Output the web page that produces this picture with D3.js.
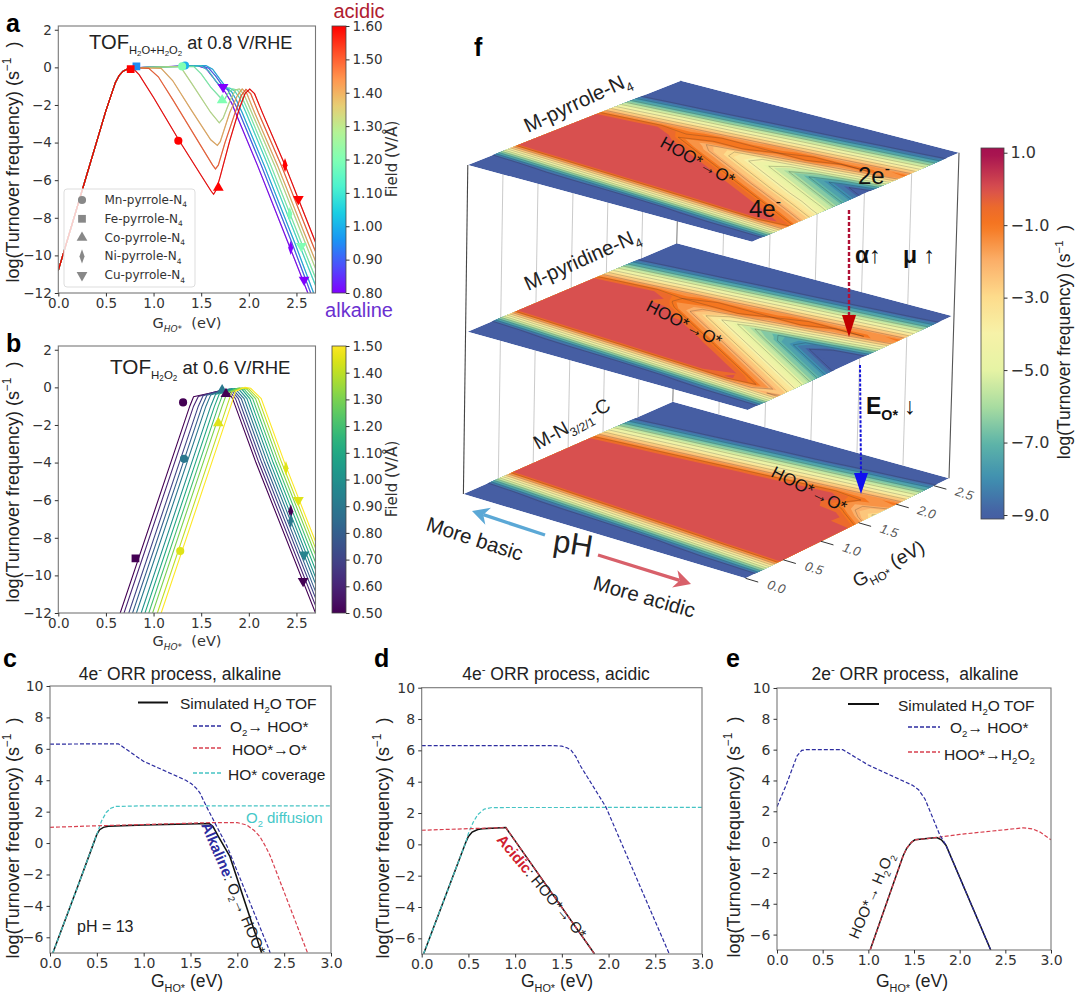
<!DOCTYPE html>
<html><head><meta charset="utf-8">
<script src="https://d3js.org/d3.v7.min.js"></script>
<style>
html,body{margin:0;padding:0;background:#fff}
svg{display:block}
.tick text{font-family:"DejaVu Sans";fill:#333}
</style></head><body>
<svg id="c" width="1080" height="994"></svg>
<script>
// ---------- DATA: panel a (logTOF vs G_HO*), one list per field value ----------
const riseA = [[0,-10.8],[.1,-9.1],[.2,-7.4],[.3,-5.7],[.4,-4],[.5,-2.3],[.6,-.8],[.64,-.42],[.68,-.2],[.73,-.08],[.78,-.02]];
const fieldsA = [0.8,0.9,1.0,1.1,1.2,1.3,1.4,1.5,1.6];
const a080 = [[1.45,.1],[1.55,-.05],[1.62,-.5],[1.7,-1.05],[1.75,-1.3],[1.82,-1.9],[1.86,-2.4],[2.09,-5.2],[2.41,-9.3],[2.62,-12]];
const a090 = [[1.5,.1],[1.58,-.05],[1.65,-.45],[1.72,-.95],[1.78,-1.2],[1.84,-1.8],[1.9,-2.4],[2.13,-5.2],[2.45,-9.3],[2.65,-12]];
const a100 = [[1.55,.1],[1.62,-.1],[1.7,-.65],[1.76,-1.05],[1.82,-1.3],[1.87,-1.75],[1.93,-2.4],[2.16,-5.2],[2.48,-9.3],[2.68,-12]];
const a110 = [[1.5,.08],[1.58,-.2],[1.65,-.7],[1.72,-1.1],[1.8,-1.1],[1.85,-1.25],[1.9,-1.6],[1.97,-2.4],[2.2,-5.2],[2.52,-9.3],[2.7,-11.6]];
const a120 = [[1.42,.05],[1.5,-.35],[1.6,-1.05],[1.7,-1.6],[1.74,-1.75],[1.78,-1.4],[1.83,-1.15],[1.88,-1.2],[1.92,-1.5],[2,-2.4],[2.23,-5.2],[2.55,-9.3],[2.7,-11.2]];
const a130 = [[1.28,.05],[1.4,-.85],[1.6,-2.4],[1.69,-2.95],[1.73,-2.7],[1.8,-1.8],[1.86,-1.2],[1.9,-1.15],[1.95,-1.45],[2.03,-2.4],[2.27,-5.2],[2.59,-9.3],[2.7,-10.7]];
const a140 = [[1.08,-.05],[1.2,-.7],[1.4,-2.3],[1.6,-3.85],[1.67,-4.15],[1.7,-3.95],[1.8,-2.4],[1.88,-1.5],[1.93,-1.15],[1.98,-1.4],[2.06,-2.4],[2.3,-5.2],[2.62,-9.3],[2.7,-10.3]];
const a150 = [[.95,-.05],[1.05,-.5],[1.2,-1.7],[1.5,-4.2],[1.62,-5.2],[1.65,-5.4],[1.68,-5.2],[1.75,-4],[1.85,-2.5],[1.92,-1.5],[1.97,-1.17],[2.02,-1.4],[2.1,-2.4],[2.34,-5.2],[2.66,-9.3],[2.7,-9.8]];
const a160 = [[.85,-.4],[1,-1.6],[1.27,-3.9],[1.5,-5.75],[1.6,-6.55],[1.63,-6.75],[1.66,-6.5],[1.7,-5.8],[1.8,-3.9],[1.9,-2.2],[1.96,-1.4],[2.01,-1.15],[2.06,-1.4],[2.15,-2.5],[2.38,-5.2],[2.52,-7],[2.7,-9.3]];
const seriesA = [a080,a090,a100,a110,a120,a130,a140,a150,a160];
const rainbowStops = ["#8000ff","#4d4ffb","#1a96f3","#1acee3","#4df3ce","#80ffb4","#b3f396","#e6ce74","#ff964f","#ff4f28","#ff0000"];
const markersA = [["circle",1.33,.1,1.0],["circle",1.3,.05,1.2],["circle",1.26,-3.9,1.6],["square",.82,.05,.95],["square",.76,-.1,1.6],
  ["up",1.68,-6.4,1.6],["up",1.72,-1.75,1.2],["down",1.73,-1.05,.8],["diamond",2.38,-5.2,1.6],["diamond",2.43,-7.8,1.2],["diamond",2.44,-9.6,.8],
  ["down",2.52,-7,1.6],["down",2.55,-9.5,1.2],["down",2.58,-11.3,.8]];
const legendNames = ["Mn","Fe","Co","Ni","Cu"];
const legendSymbols = ["circle","square","up","diamond","down"];
// ---------- panel b ----------
const fieldsB = [.5,.6,.7,.8,.9,1.0,1.1,1.2,1.3,1.4,1.5];
const b050=[[.65,-12],[1.38,-1],[1.42,-.5],[1.6,-.3],[1.72,-.15],[1.78,-.2],[1.83,-.6],[2.075,-4],[2.7,-12]];
const b060=[[.69,-12],[1.42,-1],[1.47,-.48],[1.6,-.3],[1.74,-.13],[1.8,-.2],[1.86,-.6],[2.105,-4],[2.7,-11.6]];
const b070=[[.74,-12],[1.47,-1],[1.52,-.45],[1.6,-.33],[1.76,-.12],[1.82,-.18],[1.89,-.6],[2.135,-4],[2.7,-11.2]];
const b080=[[.78,-12],[1.51,-1],[1.56,-.42],[1.78,-.1],[1.84,-.16],[1.92,-.6],[2.165,-4],[2.7,-10.85]];
const b090=[[.82,-12],[1.55,-1],[1.6,-.4],[1.8,-.08],[1.87,-.15],[1.95,-.6],[2.195,-4],[2.7,-10.45]];
const b100=[[.87,-12],[1.6,-1],[1.65,-.38],[1.82,-.07],[1.9,-.13],[1.98,-.6],[2.225,-4],[2.7,-10.1]];
const b110=[[.91,-12],[1.64,-1],[1.69,-.35],[1.85,-.06],[1.93,-.12],[2.01,-.6],[2.255,-4],[2.7,-9.7]];
const b120=[[.95,-12],[1.68,-1],[1.73,-.33],[1.88,-.05],[1.95,-.1],[2.04,-.6],[2.285,-4],[2.7,-9.3]];
const b130=[[.99,-12],[1.72,-1],[1.77,-.3],[1.9,-.03],[1.98,-.1],[2.07,-.6],[2.315,-4],[2.7,-8.9]];
const b140=[[1.04,-12],[1.77,-1],[1.82,-.25],[1.93,-.02],[2,-.08],[2.1,-.6],[2.345,-4],[2.7,-8.55]];
const b150=[[1.08,-12],[1.81,-1],[1.86,-.2],[1.96,0],[2.02,-.05],[2.13,-.6],[2.375,-4],[2.7,-8.2]];
const seriesB=[b050,b060,b070,b080,b090,b100,b110,b120,b130,b140,b150];
const markersB=[["circle",1.31,-.8,.5],["circle",1.32,-3.8,.9],["circle",1.28,-8.7,1.45],["square",.81,-9.1,.5],
  ["up",1.68,-1.9,1.45],["up",1.72,-.15,.9],["up",1.76,-.35,.5],["diamond",2.39,-4.3,1.45],["diamond",2.44,-6.6,.5],["diamond",2.44,-7.1,.9],
  ["down",2.52,-6,1.45],["down",2.58,-8.9,.95],["down",2.57,-10.3,.5]];
// ---------- panel c ----------
const cSim=[[.03,-7],[.3,-2.7],[.46,-.1],[.5,.55],[.53,.85],[.57,1],[.62,1.07],[1,1.15],[1.7,1.25],[1.74,1.05],[1.8,.4],[1.92,-.85],[2.26,-7]];
const cO2=[[0,6.3],[.73,6.32],[1,5.2],[1.45,4],[1.51,3.77],[1.56,3.5],[1.6,3.2],[1.67,2.33],[1.78,1.06],[1.89,-.2],[2.34,-6.8],[2.35,-7]];
const cHOO=[[0,1],[.5,1.1],[1,1.18],[1.7,1.3],[2,1.3],[2.1,1.15],[2.18,.8],[2.24,.42],[2.3,-.2],[2.35,-.8],[2.75,-7]];
const cCov=[[.03,-7],[.3,-2.7],[.46,-.1],[.5,.55],[.55,1.4],[.6,1.95],[.65,2.22],[.7,2.33],[1,2.37],[3,2.37]];
// ---------- panel d ----------
const dSim=[[.02,-7],[.47,.1],[.5,.5],[.54,.78],[.6,.95],[.65,1],[.9,1.07],[1.85,-7]];
const dO2=[[0,6.3],[1.4,6.3],[1.5,6.27],[1.56,6.15],[1.6,6],[1.65,5.6],[1.7,5],[1.97,2.4],[2.65,-7]];
const dHOO=[[0,.9],[.5,1],[.9,1.07],[1.85,-7]];
const dCov=[[.02,-7],[.47,.1],[.5,.7],[.55,1.4],[.6,1.9],[.67,2.25],[.75,2.35],[3,2.36]];
// ---------- panel e ----------
const eSim=[[1.02,-7],[1.38,-.9],[1.42,-.4],[1.47,-.02],[1.51,.15],[1.75,.3],[1.8,.15],[1.85,-.2],[2.34,-7]];
const eO2=[[0,2.3],[.1,3.7],[.22,5.6],[.27,5.95],[.32,6],[.72,6],[1,5],[1.48,3.7],[1.55,3.4],[1.62,2.8],[1.78,.5],[1.85,-.2],[2.34,-7]];
const eHOO=[[1.02,-7],[1.38,-.9],[1.42,-.4],[1.47,-.02],[1.51,.15],[1.75,.3],[2,.5],[2.7,.93],[2.8,.85],[2.88,.65],[3,.15]];
// ---------- panel f: log TOF read per pH column, on a G_HO* grid ----------
const pHColumns=[13,11.8,10.6,9.4,8.2,7,5.8,4.6,3.4,2.2,1];
const gRows=[0,.1,.2,.3,.4,.5,.6,.7,.8,.9,1,1.1,1.2,1.3,1.4,1.5,1.6,1.7,1.8,1.9,2,2.1,2.2,2.3,2.4,2.5,2.6,2.7];
const pyrrole=[
[-10,-10,-10,-9.5,-6.9,-4.2,-1.5,1.2,-.1,-.1,-.1,-.1,-.1,-.1,-.1,-.1,.23,-1.3,-2.8,-4.4,-5.9,-7.5,-9,-10,-10,-10,-10,-10],
[-10,-10,-10,-9,-6.4,-3.7,-1,1.7,-.1,-.1,-.1,-.1,-.1,-.1,-.1,-.1,.72,-.8,-2.4,-3.9,-5.4,-7,-8.5,-10,-10,-10,-10,-10],
[-10,-10,-10,-8.5,-5.8,-3.2,-.5,2.2,-.1,-.1,-.1,-.1,-.1,-.1,-.1,-.1,1.2,-.32,-1.9,-3.4,-4.9,-6.5,-8,-9.6,-10,-10,-10,-10],
[-10,-10,-10,-8,-5.3,-2.7,0,.5,-.1,-.1,-.1,-.1,-.1,-.1,.8,-.1,-1,-1,-1.4,-2.9,-4.4,-6,-7.5,-9.1,-10,-10,-10,-10],
[-10,-10,-10,-7.5,-4.8,-2.2,.5,.5,-.1,-.1,-.1,-.1,-.1,.33,-.58,-1.5,-2,-1,-1,-2.4,-4,-5.5,-7,-8.6,-10,-10,-10,-10],
[-10,-10,-9.7,-7,-4.3,-1.7,1,.5,-.1,-.1,-.1,.75,-.16,-1.07,-2,-2.9,-3,-1,-1,-1.9,-3.5,-5,-6.5,-8.1,-9.6,-10,-10,-10],
[-10,-10,-9.2,-6.5,-3.8,-1.2,1.5,.5,-.1,-.1,.26,-.65,-1.56,-2.5,-3.4,-4.3,-4,-2,-1,-1.4,-3,-4.5,-6,-7.6,-9.2,-10,-10,-10],
[-10,-10,-8.7,-6,-3.3,-.7,2,.5,.67,-.24,-1.15,-2.1,-3,-3.9,-4.8,-5.7,-5,-3,-1,-1,-2.5,-4,-5.6,-7.1,-8.7,-10,-10,-10],
[-10,-10,-8.1,-5.5,-2.8,-.05,1,.18,-.73,-1.64,-2.55,-3.5,-4.4,-5.3,-6.2,-7.1,-6,-4,-2,-1,-2,-3.5,-5.1,-6.6,-8.1,-9.7,-10,-10],
[-10,-10,-7.6,-5,-2.3,.37,-.3,-1.2,-2.1,-3,-3.9,-4.9,-5.8,-6.7,-7.6,-8.5,-7,-5,-3,-1,-1.5,-3,-4.6,-6.1,-7.7,-9.2,-10,-10],
[-10,-9.8,-7.1,-4.4,-1.8,-.82,-1.73,-2.6,-3.5,-4.5,-5.4,-6.3,-7.2,-8.1,-9,-9.9,-8,-6,-4,-2,-1,-2.5,-4.1,-5.6,-7.2,-8.7,-10,-10]];
const pyridine=[
[-10,-10,-10,-9.5,-6.9,-4.2,-1.5,1.2,-.1,-.1,-.1,-.1,-.1,-.1,-.1,-.1,.23,-1.3,-2.8,-4.4,-5.9,-7.5,-9,-10,-10,-10,-10,-10],
[-10,-10,-10,-9,-6.4,-3.7,-1,1.7,-.1,-.1,-.1,-.1,-.1,-.1,-.1,-.1,.72,-.8,-2.4,-3.9,-5.4,-7,-8.5,-10,-10,-10,-10,-10],
[-10,-10,-10,-8.5,-5.8,-3.2,-.5,2.2,-.1,-.1,-.1,-.1,-.1,-.1,-.1,-.1,1.2,-.32,-1.9,-3.4,-4.9,-6.5,-8,-9.6,-10,-10,-10,-10],
[-10,-10,-10,-8,-5.3,-2.7,0,.5,-.1,-.1,-.1,-.1,-.1,-.1,.45,-.55,-1.2,-1,-1.4,-2.9,-4.4,-6,-7.5,-9.1,-10,-10,-10,-10],
[-10,-10,-10,-7.5,-4.8,-2.2,.5,.5,-.1,-.1,-.1,-.1,.7,-.3,-1.3,-2.3,-2,-1,-1,-2.4,-4,-5.5,-7,-8.6,-10,-10,-10,-10],
[-10,-10,-9.7,-7,-4.3,-1.7,1,.5,-.1,-.1,.95,.05,-1.05,-2.05,-3.05,-4.05,-3,-1,-1,-1.9,-3.5,-5,-6.5,-8.1,-9.6,-10,-10,-10],
[-10,-10,-9.2,-6.5,-3.8,-1.2,1.5,.5,1.2,.2,-.8,-1.8,-2.8,-3.8,-4.8,-5.8,-4,-2,-1,-1.4,-3,-4.5,-6,-7.6,-9.2,-10,-10,-10],
[-10,-10,-8.7,-6,-3.3,-.7,2,.45,-.55,-1.55,-2.55,-3.55,-4.55,-5.55,-6.55,-7,-5,-3,-1,-1,-2.5,-4,-5.6,-7.1,-8.7,-10,-10,-10],
[-10,-10,-8.1,-5.5,-2.8,-.14,-.3,-1.3,-2.3,-3.3,-4.3,-5.3,-6.3,-7.3,-8.3,-8,-6,-4,-2,-1,-2,-3.5,-5.1,-6.6,-8.1,-9.7,-10,-10],
[-10,-10,-7.6,-5,-2.3,-1.05,-2.05,-3.05,-4.05,-5.05,-6.05,-7.05,-8.05,-9.05,-10,-9,-7,-5,-3,-1,-1.5,-3,-4.6,-6.1,-7.7,-9.2,-10,-10],
[-10,-9.8,-7.1,-4.4,-1.8,-2.8,-3.8,-4.8,-5.8,-6.8,-7.8,-8.8,-9.8,-10,-10,-10,-8,-6,-4,-2,-1,-2.5,-4.1,-5.6,-7.2,-8.7,-10,-10]];
const carbon=[
[-10,-10,-10,-9.5,-6.9,-4.2,-1.5,1.2,-.1,-.1,-.1,-.1,-.1,-.1,-.1,-.1,.23,-1.3,-2.8,-4.4,-5.9,-7.5,-9,-10,-10,-10,-10,-10],
[-10,-10,-10,-9,-6.4,-3.7,-1,1.7,-.1,-.1,-.1,-.1,-.1,-.1,-.1,-.1,.72,-.8,-2.4,-3.9,-5.4,-7,-8.5,-10,-10,-10,-10,-10],
[-10,-10,-10,-8.5,-5.8,-3.2,-.5,2.2,-.1,-.1,-.1,-.1,-.1,-.1,-.1,-.1,1.2,-.32,-1.9,-3.4,-4.9,-6.5,-8,-9.6,-10,-10,-10,-10],
[-10,-10,-10,-8,-5.3,-2.7,0,.5,-.1,-.1,-.1,-.1,-.1,-.1,-.1,-.1,-.1,.17,-1.37,-2.9,-4.4,-6,-7.5,-9.1,-10,-10,-10,-10],
[-10,-10,-10,-7.5,-4.8,-2.2,.5,.5,-.1,-.1,-.1,-.1,-.1,-.1,-.1,-.1,-.1,.66,-.88,-2.4,-4,-5.5,-7,-8.6,-10,-10,-10,-10],
[-10,-10,-9.7,-7,-4.3,-1.7,1,.5,-.1,-.1,-.1,-.1,-.1,-.1,-.1,-.1,-.1,1.15,-.38,-1.9,-3.5,-5,-6.5,-8.1,-9.6,-10,-10,-10],
[-10,-10,-9.2,-6.5,-3.8,-1.2,1.5,.5,-.1,-.1,-.1,-.1,-.1,-.1,-.1,-.1,-.1,-.1,.11,-1.43,-3,-4.5,-6,-7.6,-9.2,-10,-10,-10],
[-10,-10,-8.7,-6,-3.3,-.7,2,.5,-.1,-.1,-.1,-.1,-.1,-.1,-.1,-.1,-.1,-.1,.6,-.94,-2.5,-4,-5.6,-7.1,-8.7,-10,-10,-10],
[-10,-10,-8.1,-5.5,-2.8,-.05,1,.5,-.1,-.1,-.1,-.1,-.1,-.1,-.1,-.1,-.1,-.1,1.09,-.45,-2,-3.5,-5.1,-6.6,-8.1,-9.7,-10,-10],
[-10,-10,-7.6,-5,-2.3,.37,.5,-.1,-.1,-.1,-.1,-.1,-.1,-.1,-.1,.37,-.55,-1.45,-1.7,-1,-1.5,-3,-4.6,-6.1,-7.7,-9.2,-10,-10],
[-10,-9.8,-7.1,-4.4,-1.8,.9,.5,-.1,-.1,-.1,-.1,-.1,1.1,.27,-.64,-1.55,-2.6,-3.1,-2.6,-1.8,-1,-2.5,-4.1,-5.6,-7.2,-8.7,-10,-10]];
const fColorVals=[-9,-8,-7,-6,-5,-4,-3,-2,-1,-.5,0,1];
const fColorHex=["#465ea3","#3f8fb0","#5fb5a8","#a9dca0","#e6f3a4","#f6f2a8","#fddc8c","#fbb06a","#f5761f","#ec6a2c","#d8504f","#a51050"];
const fTicks=[1,-1,-3,-5,-7,-9];
const gTicks=[0,.5,1,1.5,2,2.5];

// ---------- helpers ----------
const svg=d3.select("#c");
const SANS='"Liberation Sans",Arial,sans-serif', DJ='"DejaVu Sans",sans-serif';
function rich(x,y,parts,o={}){
  const fs=o.size||15;
  const t=svg.append("text").attr("font-family",o.font||SANS).attr("font-size",fs).attr("fill",o.fill||"#222")
    .attr("text-anchor",o.anchor||"start").attr("transform",`translate(${x},${y}) rotate(${o.rot||0})`);
  let cur=0;
  parts.forEach(p=>{
    const [s,k,fill]=typeof p==="string"?[p,""]:p;
    const kinds=(k||"").split(" ");
    let off=0,size=fs;
    if(kinds.includes("sub")){off=fs*.28;size=fs*.62;}
    if(kinds.includes("ss")){off=fs*.4;size=fs*.44;}
    if(kinds.includes("sup")){off=-fs*.42;size=fs*.66;}
    if(kinds.includes("big")){size=fs*1.12;}
    const ts=t.append("tspan").attr("dy",off-cur).attr("font-size",size).attr("xml:space","preserve").text(s);
    if(kinds.includes("b"))ts.attr("font-weight","bold");
    if(kinds.includes("i"))ts.attr("font-style","italic");
    if(fill)ts.attr("fill",fill);
    cur=off;
  });
  return t;
}
function axes(b,xd,yd,xt,yt,fs){
  const x=d3.scaleLinear().domain(xd).range([b[0],b[1]]);
  const y=d3.scaleLinear().domain(yd).range([b[3],b[2]]);
  const id="clip"+Math.round(b[0])+Math.round(b[2]);
  svg.append("clipPath").attr("id",id).append("rect").attr("x",b[0]).attr("y",b[2]).attr("width",b[1]-b[0]).attr("height",b[3]-b[2]);
  const g=svg.append("g").attr("clip-path",`url(#${id})`);
  const after=()=>{
    svg.append("rect").attr("x",b[0]).attr("y",b[2]).attr("width",b[1]-b[0]).attr("height",b[3]-b[2]).attr("fill","none").attr("stroke","#777").attr("stroke-width",1.1);
    const ax=svg.append("g").attr("transform",`translate(0,${b[3]})`).call(d3.axisBottom(x).tickValues(xt).tickFormat(d3.format(".1f")).tickSize(3.5).tickPadding(2));
    const ay=svg.append("g").attr("transform",`translate(${b[0]},0)`).call(d3.axisLeft(y).tickValues(yt).tickFormat(d3.format("d")).tickSize(3.5).tickPadding(3));
    [ax,ay].forEach(a=>{a.select(".domain").remove();a.selectAll("text").attr("font-size",fs);a.selectAll("line").attr("stroke","#333");});
  };
  return {x,y,g,after};
}
const sym={circle:d3.symbolCircle,square:d3.symbolSquare,up:d3.symbolTriangle,down:d3.symbolTriangle,diamond:d3.symbolDiamond};
function marker(g,k,x,y,fill,op){
  const s=k==="diamond"?"scale(.72,1.15)":k==="down"?"rotate(180)":"";
  g.append("path").attr("d",d3.symbol(sym[k],k==="square"?60:k==="circle"?52:k==="diamond"?44:50)())
    .attr("transform",`translate(${x},${y}) ${s}`).attr("fill",fill).attr("fill-opacity",op==null?1:op);
}
function colorbar(x0,x1,y0,y1,dom,colorFn,ticks,fmt,fs){
  const id="g"+Math.round(y0)+Math.round(x0);
  const lg=svg.append("defs").append("linearGradient").attr("id",id).attr("x1",0).attr("x2",0).attr("y1",1).attr("y2",0);
  d3.range(0,1.0001,.02).forEach(t=>lg.append("stop").attr("offset",t).attr("stop-color",colorFn(dom[0]+t*(dom[1]-dom[0]))));
  const y=d3.scaleLinear().domain(dom).range([y1,y0]);
  svg.append("rect").attr("x",x0).attr("y",y0).attr("width",x1-x0).attr("height",y1-y0).attr("fill",`url(#${id})`).attr("stroke","#444").attr("stroke-width",.8);
  const a=svg.append("g").attr("transform",`translate(${x1},0)`).call(d3.axisRight(y).tickValues(ticks).tickFormat(fmt).tickSize(3.5).tickPadding(3));
  a.select(".domain").remove();a.selectAll("text").attr("font-size",fs);a.selectAll("line").attr("stroke","#333");
  return y;
}
const lineGen=(x,y)=>d3.line().x(d=>x(d[0])).y(d=>y(d[1]));
const rainbow=d3.scaleLinear().domain(d3.range(0,11).map(i=>.8+.08*i)).range(rainbowStops).clamp(true);
const viridis=d3.scaleSequential(d3.interpolateViridis).domain([.5,1.5]);
const ylab=(x,y,fs)=>rich(x,y,["log(Turnover frequency) (s",["−1","sup"],["  ",""],")"],{size:fs,rot:-90,anchor:"middle",fill:"#222"});

// ---------- panel a ----------
{
  const p=axes([58.3,315.5,26,293],[0,2.7],[-12,2.2],[0,.5,1,1.5,2,2.5],[-12,-10,-8,-6,-4,-2,0,2],13.5);
  const ln=lineGen(p.x,p.y);
  seriesA.forEach((s,i)=>{
    p.g.append("path").attr("d",ln(riseA.concat(s))).attr("fill","none")
      .attr("stroke",d3.color(rainbow(fieldsA[i])).darker(.55)).attr("stroke-width",1.2).attr("stroke-opacity",.9);
    p.g.append("path").attr("d",ln(riseA.concat(s))).attr("fill","none").attr("stroke",rainbow(fieldsA[i])).attr("stroke-width",.7).attr("stroke-opacity",.6);
  });
  markersA.forEach(m=>marker(p.g,m[0],p.x(m[1]),p.y(m[2]),rainbow(m[3])));
  p.g.append("rect").attr("x",64).attr("y",189).attr("width",131).attr("height",98).attr("rx",3).attr("fill","#fff").attr("fill-opacity",.8).attr("stroke","#ddd");
  p.after();
  legendNames.forEach((n,i)=>{
    const y=200+i*18.8;
    marker(svg,legendSymbols[i],82,y,"#888");
    rich(104.5,y+4,[n+"-pyrrole-N",["4","sub"]],{size:12,font:DJ,fill:"#333"});
  });
  colorbar(332,346,26,293,[.8,1.6],rainbow,fieldsA,d3.format(".2f"),13.5);
  rich(89,49,[["TOF","big"],["H","sub"],["2","ss"],["O+H","sub"],["2","ss"],["O","sub"],["2","ss"]," at 0.8 V/RHE"],{size:18});
  rich(359,18.2,["acidic"],{size:20,anchor:"middle",fill:"#b0202f"});
  rich(359,317,["alkaline"],{size:20,anchor:"middle",fill:"#6a2fd0"});
  rich(6,32,[["a","b"]],{size:25,fill:"#000"});
  ylab(19,162,18);
  rich(187,328,["G",["HO*","sub i"],"  (eV)"],{size:14.5,font:DJ,anchor:"middle",fill:"#333"});
  rich(397,159,["Field (V/Å)"],{size:15,font:DJ,rot:-90,anchor:"middle",fill:"#333"});
}
// ---------- panel b ----------
{
  const p=axes([58.3,315.5,346,613],[0,2.7],[-12,2.2],[0,.5,1,1.5,2,2.5],[-12,-10,-8,-6,-4,-2,0,2],13.5);
  const ln=lineGen(p.x,p.y);
  seriesB.forEach((s,i)=>p.g.append("path").attr("d",ln(s)).attr("fill","none").attr("stroke",viridis(fieldsB[i])).attr("stroke-width",1.1));
  markersB.forEach(m=>marker(p.g,m[0],p.x(m[1]),p.y(m[2]),viridis(m[3])));
  p.after();
  colorbar(332,346,346,613,[.5,1.5],viridis,fieldsB,d3.format(".2f"),13.5);
  rich(110,374,[["TOF","big"],["H","sub"],["2","ss"],["O","sub"],["2","ss"]," at 0.6 V/RHE"],{size:18.5});
  rich(6,352,[["b","b"]],{size:25,fill:"#000"});
  ylab(19,482,18);
  rich(187,646,["G",["HO*","sub i"],"  (eV)"],{size:14.5,font:DJ,anchor:"middle",fill:"#333"});
  rich(397,479,["Field (V/Å)"],{size:15,font:DJ,rot:-90,anchor:"middle",fill:"#333"});
}
// ---------- panels c, d, e ----------
const BLUE="#2d2da0",RED="#d8404f",CYAN="#45c4c4";
function tofPanel(b,sim,o2,hoo,cov){
  const p=axes(b,[0,3],[-7,10],[0,.5,1,1.5,2,2.5,3],[-6,-4,-2,0,2,4,6,8,10],14);
  const ln=lineGen(p.x,p.y);
  const dash=(d,c)=>p.g.append("path").attr("d",ln(d)).attr("fill","none").attr("stroke",c).attr("stroke-width",1.2).attr("stroke-dasharray","4,2");
  p.g.append("path").attr("d",ln(sim)).attr("fill","none").attr("stroke","#111").attr("stroke-width",1.5);
  if(cov)dash(cov,CYAN);
  dash(hoo,RED);
  dash(o2,BLUE);
  p.after();
  return p;
}
function legLine(x0,x1,y,c,dashed){
  const l=svg.append("line").attr("x1",x0).attr("x2",x1).attr("y1",y).attr("y2",y).attr("stroke",c).attr("stroke-width",dashed?1.4:2);
  if(dashed)l.attr("stroke-dasharray","4,2");
}
const ghoLabel=(x,y)=>rich(x,y,["G",["HO*","sub"]," (eV)"],{size:17.5,anchor:"middle"});
{
  tofPanel([50,331,686,953],cSim,cO2,cHOO,cCov);
  rich(180,680,["4e",["-","sup"]," ORR process, alkaline"],{size:17.5,anchor:"middle"});
  rich(3,667,[["c","b"]],{size:25,fill:"#000"});
  ylab(19,838,18);ghoLabel(187,987);
  legLine(138,168,702.5,"#111");rich(180,709,["Simulated H",["2","sub"],"O TOF"],{size:15.5});
  legLine(193,222,726,BLUE,1);rich(230,732,["O",["2","sub"],"→ HOO*"],{size:15.5});
  legLine(193,222,748,RED,1);rich(232,755,["HOO*→O*"],{size:15.5});
  legLine(193,222,773,CYAN,1);rich(228,780,["HO* coverage"],{size:15.5});
  rich(246,823,["O",["2","sub"]," diffusion"],{size:15,fill:"#45c8c8"});
  rich(77,932,["pH = 13"],{size:16});
  rich(201,825,[["Alkaline","b",BLUE],": O",["2","sub"],"→ HOO*"],{size:15,rot:67});
}
{
  tofPanel([421.7,702,687.7,954],dSim,dO2,dHOO,dCov);
  rich(556,680,["4e",["-","sup"]," ORR process, acidic"],{size:17.5,anchor:"middle"});
  rich(374,667,[["d","b"]],{size:25,fill:"#000"});
  ylab(389,838,18);ghoLabel(557,987);
  rich(496,840,[["Acidic","b","#d02030"],": HOO*→ O*"],{size:15,rot:50});
}
{
  tofPanel([777,1051,688,950],eSim,eO2,eHOO,null);
  rich(915,680,["2e",["-","sup"]," ORR process,  alkaline"],{size:17.5,anchor:"middle"});
  rich(726,667,[["e","b"]],{size:25,fill:"#000"});
  ylab(740,837,18);ghoLabel(912,987);
  legLine(848,879,704,"#111");rich(898,711,["Simulated H",["2","sub"],"O TOF"],{size:15.5});
  legLine(908,940,727,BLUE,1);rich(950,733,["O",["2","sub"],"→ HOO*"],{size:15.5});
  legLine(908,940,752,RED,1);rich(944,760,["HOO*→H",["2","sub"],"O",["2","sub"]],{size:15.5});
  rich(858,940,["HOO*→ H",["2","sub"],"O",["2","sub"]],{size:15,rot:-67});
}
// ---------- panel f ----------
const fColor=d3.scaleLinear().domain(fColorVals).range(fColorHex).clamp(true);
const planes=[
 {cols:carbon,  L:[463.4,494],  F:[745.5,578.3],R:[949,478.3],B:[672.8,401.7]},
 {cols:pyridine,L:[467.7,331.7],F:[747.6,410],  R:[952,316],  B:[676.7,243.3]},
 {cols:pyrrole, L:[467.8,165],  F:[752,241.7],  R:[959,152.7],B:[680.8,80.7]}];
const sFromPH=d3.scaleLinear().domain([pHColumns[0],pHColumns[pHColumns.length-1]]).range([0,1]);
const tFromG=d3.scaleLinear().domain([gRows[0],gRows[gRows.length-1]]).range([0,1]);
const colIdx=d3.scaleLinear().domain([.5,pHColumns.length-.5]).range([pHColumns[0],pHColumns[pHColumns.length-1]]);
const rowIdx=d3.scaleLinear().domain([.5,gRows.length-.5]).range([gRows[0],gRows[gRows.length-1]]);
const proj=(pl,s,t)=>[0,1].map(i=>(1-s)*(1-t)*pl.L[i]+s*(1-t)*pl.F[i]+s*t*pl.R[i]+(1-s)*t*pl.B[i]);
// vertical frame lines behind the planes
{
  const top=planes[2],bot=planes[0];
  const wall=(tA,sA,c,w)=>{const a=proj(top,sA,tA),b=proj(bot,sA,tA);
    svg.append("line").attr("x1",a[0]).attr("y1",a[1]).attr("x2",b[0]).attr("y2",b[1]).attr("stroke",c).attr("stroke-width",w);};
  d3.range(1,6).forEach(i=>wall(i/6,0,"#c4c4c4",.9));
  d3.range(1,6).forEach(i=>{const a=[0,1].map(k=>top.B[k]+(top.R[k]-top.B[k])*i/6),b=[0,1].map(k=>bot.B[k]+(bot.R[k]-bot.B[k])*i/6);
    svg.append("line").attr("x1",a[0]).attr("y1",a[1]).attr("x2",b[0]).attr("y2",b[1]).attr("stroke","#c4c4c4").attr("stroke-width",.9);});
  wall(0,0,"#444",1.1);wall(1,0,"#777",1);wall(1,1,"#555",1.1);
}
const thresholds=d3.range(-9.25,-.2,.5);
const lines=d3.range(-9,0,1);
planes.forEach((pl,idx)=>{
  const values=d3.merge(gRows.map((_,j)=>pl.cols.map(c=>c[j])));
  const proto=d3.contours().size([pHColumns.length,gRows.length]).smooth(true);
  const tf=d3.geoTransform({point(x,y){const q=proj(pl,sFromPH(colIdx(x)),tFromG(rowIdx(y)));this.stream.point(q[0],q[1]);}});
  const path=d3.geoPath(tf);
  const id="plane"+idx;
  svg.append("clipPath").attr("id",id).append("polygon").attr("points",[pl.L,pl.F,pl.R,pl.B].map(d=>d.join(",")).join(" "));
  const g=svg.append("g").attr("clip-path",`url(#${id})`);
  g.append("polygon").attr("points",[pl.L,pl.F,pl.R,pl.B].map(d=>d.join(",")).join(" ")).attr("fill",fColor(-9));
  thresholds.forEach(th=>{
    g.append("path").attr("d",path(proto.contour(values,th))).attr("fill",fColor(th>-.3?0:th+.25));
  });
  lines.forEach(th=>{
    g.append("path").attr("d",path(proto.contour(values,th))).attr("fill","none").attr("stroke","#222").attr("stroke-width",.4).attr("stroke-opacity",.55);
  });
});
// G axis on the lowest plane
{
  const pl=planes[0];
  gTicks.forEach(v=>{
    const t=tFromG(v);
    const a=proj(pl,1,t),b=proj(pl,1.045,t),c=proj(pl,1.105,t);
    svg.append("line").attr("x1",a[0]).attr("y1",a[1]).attr("x2",b[0]).attr("y2",b[1]).attr("stroke","#333").attr("stroke-width",1);
    rich(c[0],c[1]+4,[d3.format(".1f")(v)],{size:13,anchor:"middle",fill:"#555",rot:18}).attr("font-style","italic");
  });
}
colorbar(981,1004,148,519,[-9.11,1.13],fColor,fTicks,d3.format(".1f"),16);
rich(1070,342,["log(Turnover frequency) (s",["−1","sup"],["  ",""],")"],{size:17.5,rot:-90,anchor:"middle"});
rich(474,56,[["f","b"]],{size:25,fill:"#000"});
rich(528,133,["M-pyrrole-N",["4","sub"]],{size:20.5,rot:-25});
rich(528,291,["M-pyridine-N",["4","sub"]],{size:20.5,rot:-24});
rich(538,450,["M-N",["3/2/1","sub"],"-C"],{size:19.5,rot:-29});
rich(659,146,["HOO*→O*"],{size:17,rot:29,fill:"#111"});
rich(645,310,["HOO*→O*"],{size:17,rot:27,fill:"#111"});
rich(770,476,["HOO*→O*"],{size:17,rot:27,fill:"#111"});
rich(749,217,["4e",["-","sup"]],{size:24,fill:"#111"});
rich(858,184,["2e",["-","sup"]],{size:24,fill:"#111"});
rich(855,263,[["α","b"],"↑"],{size:23,fill:"#111"});
rich(903,263,[["μ","b"]," ↑"],{size:23,fill:"#111"});
rich(866,414,[["E","b"],["O*","sub b"]," ↓"],{size:23,fill:"#111"});
// arrows
svg.append("line").attr("x1",849).attr("y1",210).attr("x2",849).attr("y2",316).attr("stroke","#b01035").attr("stroke-width",2.4).attr("stroke-dasharray","4,2");
svg.append("path").attr("d",d3.line()([[842,315],[856,315],[849,337]])+"Z").attr("fill","#c00000");
svg.append("line").attr("x1",860).attr("y1",365).attr("x2",861).attr("y2",474).attr("stroke","#1515d8").attr("stroke-width",2).attr("stroke-dasharray","3,1.6");
svg.append("path").attr("d",d3.line()([[854,473],[868,473],[861,494]])+"Z").attr("fill","#1010f0");
function bigArrow(x0,y0,x1,y1,c){
  const a=Math.atan2(y1-y0,x1-x0),L=17,W=9;
  svg.append("line").attr("x1",x0).attr("y1",y0).attr("x2",x1-L*.7*Math.cos(a)).attr("y2",y1-L*.7*Math.sin(a)).attr("stroke",c).attr("stroke-width",3.4);
  const pts=[[x1,y1],[x1-L*Math.cos(a)+W*Math.sin(a),y1-L*Math.sin(a)-W*Math.cos(a)],[x1-L*.7*Math.cos(a),y1-L*.7*Math.sin(a)],[x1-L*Math.cos(a)-W*Math.sin(a),y1-L*Math.sin(a)+W*Math.cos(a)]];
  svg.append("path").attr("d",d3.line()(pts)+"Z").attr("fill",c);
}
bigArrow(545,535,472,511,"#5ba8d6");
bigArrow(598,555,691,584,"#d8606a");
rich(425,530,["More basic"],{size:20.5,rot:18});
rich(592,589,["More acidic"],{size:20.5,rot:16});
rich(552,551,["pH"],{size:31,rot:9});
rich(857,588,["G",["HO*","sub"]," (eV)"],{size:19,rot:-28});
</script></body></html>
